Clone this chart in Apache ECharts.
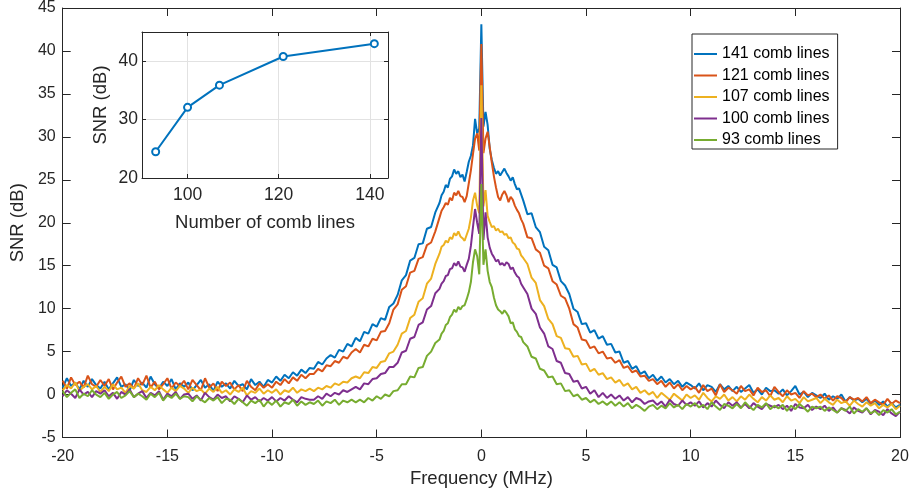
<!DOCTYPE html>
<html>
<head>
<meta charset="utf-8">
<script src="https://cdn.jsdelivr.net/npm/echarts@6/dist/echarts.min.js"></script>
<style>
  html, body { margin: 0; padding: 0; background: #fff; }
  #chart { width: 912px; height: 495px; }
</style>
</head>
<body>
<div id="chart"></div>
<script>
// frequency grid (MHz): 0.2 step outside +-2, 0.1 step in the middle
const freq = [];
for (let i = 0; i < 90; i++) freq.push(+(-20 + 0.2 * i).toFixed(1));
for (let i = 0; i <= 40; i++) freq.push(+(-2 + 0.1 * i).toFixed(1));
for (let i = 0; i < 90; i++) freq.push(+(2.2 + 0.2 * i).toFixed(1));

// SNR (dB), same order as freq
const snr141 = [
  0.8, 1.9, 1.0, 1.4, 0.6, 1.6, 0.9, 1.8, 1.1, 0.7,
  1.5, 0.6, 1.3, 2.0, 0.9, 1.2, 0.5, 1.7, 1.0, 1.4,
  0.8, 2.1, 1.2, 0.7, 1.5, 1.0, 1.8, 0.6, 1.3, 0.9,
  1.4, 0.5, 1.1, 1.7, 0.8, 1.2, 0.4, 1.5, 0.9, 1.3,
  0.7, 1.6, 1.0, 1.2, 0.6, 1.8, 1.1, 1.5, 0.9, 1.7,
  1.4, 2.1, 1.6, 2.3, 1.9, 2.6, 2.2, 2.9, 2.5, 3.1,
  3.0, 3.8, 3.5, 4.2, 4.6, 4.3, 5.2, 5.0, 5.9, 5.6,
  6.6, 6.2, 7.3, 7.1, 8.2, 7.9, 8.9, 8.7, 10.2, 10.6,
  11.6, 13.3, 13.9, 15.6, 15.9, 17.5, 17.6, 19.3, 19.5, 21.2,
  22.3, 23.2, 23.6, 24.4, 24.1, 25.1, 25.4, 26.2, 25.7, 26.0,
  25.3, 25.6, 24.8, 25.9, 27.1, 27.8, 29.0, 32.1, 30.4, 31.0,
  43.1,
  31.2, 32.9, 31.4, 28.6, 27.3, 26.4, 25.7, 26.0, 25.5, 25.9,
  26.3, 25.8, 25.4, 24.9, 25.3, 24.5, 23.9, 24.0, 23.3, 22.6,
  21.0, 21.1, 19.5, 18.9, 17.2, 16.8, 15.1, 14.8, 13.2, 12.7,
  11.7, 10.0, 9.6, 8.2, 8.3, 7.2, 7.5, 6.5, 6.8, 5.8,
  5.9, 4.9, 5.0, 3.7, 3.9, 3.0, 3.3, 2.4, 2.7, 1.9,
  2.3, 1.6, 2.1, 1.4, 1.8, 1.2, 1.6, 0.9, 1.4, 1.1,
  0.7, 1.3, 0.5, 1.1, 0.9, 0.3, 1.2, 0.6, 1.0, 0.4,
  0.9, 0.3, 0.7, 1.1, 0.2, 0.6, 0.0, 0.8, 0.4, 0.5,
  0.1, 0.6, -0.1, 0.4, 1.0, 0.0, 0.3, -0.3, 0.2, -0.1,
  -0.4, 0.1, -0.6, -0.2, -0.5, 0.0, -0.8, -0.3, -0.7, -0.5,
  -0.9, -0.5, -1.1, -0.7, -1.2, -0.8, -1.4, -1.0, -1.5, -1.2
];
const snr121 = [
  1.6, 0.7, 2.0, 1.1, 1.5, 0.8, 2.2, 1.2, 0.9, 1.7,
  1.0, 1.8, 0.6, 1.4, 2.1, 0.9, 1.3, 0.7, 1.9, 1.1,
  2.2, 0.8, 1.5, 0.6, 1.2, 1.9, 0.7, 1.4, 1.0, 1.6,
  0.6, 1.7, 1.1, 0.5, 1.9, 0.8, 1.3, 0.4, 1.5, 1.0,
  1.4, 0.6, 1.1, 0.4, 1.6, 0.9, 0.5, 1.3, 0.8, 1.2,
  0.8, 1.5, 1.1, 1.8, 1.3, 2.0, 1.6, 2.3, 1.9, 2.4,
  2.4, 3.0, 2.7, 3.4, 3.3, 3.9, 3.7, 4.4, 4.2, 4.9,
  5.3, 4.9, 5.8, 5.6, 6.5, 6.3, 7.3, 7.4, 8.3, 9.9,
  10.5, 12.2, 12.6, 14.2, 14.4, 15.8, 16.0, 17.4, 17.7, 19.0,
  20.6, 21.4, 21.8, 22.3, 22.1, 22.9, 22.6, 23.5, 23.2, 23.7,
  23.1, 23.0, 22.4, 23.1, 24.6, 26.1, 28.0, 29.8, 30.4, 28.4,
  40.8,
  28.1, 29.8, 30.6, 28.8, 27.0, 25.4, 24.1, 23.0, 22.6, 23.3,
  23.7, 23.2, 22.4, 23.0, 22.7, 22.0, 21.5, 21.1, 20.4, 19.9,
  18.3, 18.2, 16.9, 16.5, 15.0, 14.7, 13.2, 12.8, 11.5, 11.2,
  10.0, 8.2, 7.8, 6.4, 6.3, 5.4, 5.6, 4.8, 5.0, 4.2,
  4.3, 3.7, 4.0, 3.1, 3.3, 2.6, 2.8, 2.1, 2.2, 1.6,
  1.8, 1.2, 1.6, 0.9, 1.4, 0.7, 1.2, 0.5, 1.0, 0.6,
  0.9, 0.2, 1.1, 0.4, 0.7, -0.1, 1.2, 0.3, 0.8, 0.5,
  0.1, 1.0, 0.4, 0.6, -0.1, 0.8, 0.3, 0.5, -0.2, 0.9,
  0.3, -0.2, 0.5, 0.0, 0.2, -0.4, 0.4, -0.1, 0.1, -0.3,
  0.0, -0.5, -0.1, -0.7, -0.2, -0.4, -0.9, -0.3, -0.6, -0.4,
  -0.8, -0.3, -1.0, -0.6, -0.9, -1.2, -0.5, -1.1, -0.7, -1.0
];
const snr107 = [
  0.5, 1.1, 0.7, 1.4, 0.4, 0.9, 1.2, 0.6, 1.0, 0.3,
  0.9, 0.4, 1.2, 0.6, 0.8, 0.2, 1.0, 0.7, 1.3, 0.5,
  0.3, 0.9, 0.5, 1.1, 0.6, 0.2, 0.8, 0.4, 1.0, 0.7,
  0.2, 0.8, 0.4, 0.6, 0.1, 0.7, 0.3, 0.9, 0.2, 0.5,
  0.0, 0.6, 0.3, 0.8, -0.1, 0.4, 0.2, 0.7, 0.1, 0.5,
  0.2, 0.6, 0.0, 0.5, 0.3, 0.8, 0.2, 0.6, 0.4, 0.7,
  0.4, 0.8, 0.6, 1.0, 0.8, 1.3, 1.1, 1.5, 1.4, 1.9,
  2.1, 1.9, 2.6, 2.5, 3.2, 3.1, 3.8, 3.9, 4.8, 5.0,
  5.8, 7.1, 7.4, 8.9, 9.3, 10.8, 11.2, 12.9, 13.5, 15.2,
  16.4, 17.2, 17.4, 17.9, 17.7, 18.3, 18.1, 18.8, 18.5, 19.0,
  18.4, 18.2, 17.9, 18.6, 19.3, 20.6, 22.6, 23.5, 22.0, 21.1,
  36.0,
  21.9, 23.8, 20.8, 20.1, 19.5, 19.6, 19.1, 19.3, 18.9, 19.0,
  18.6, 18.7, 18.2, 18.3, 17.7, 17.5, 17.0, 16.9, 16.2, 15.9,
  15.2, 13.6, 13.0, 11.0, 10.3, 8.8, 8.2, 6.8, 6.6, 5.4,
  5.3, 4.4, 4.5, 3.5, 3.6, 2.7, 3.0, 2.3, 2.5, 1.8,
  2.0, 1.4, 1.7, 1.0, 1.3, 0.6, 0.9, 0.2, 0.5, 0.0,
  0.3, -0.4, 0.2, -0.2, -0.6, 0.1, -0.3, -0.7, 0.0, -0.4,
  -0.1, -0.6, 0.2, -0.4, -0.8, -0.2, -0.5, 0.0, -0.7, -0.3,
  -0.8, -0.2, -0.6, 0.0, -0.5, -0.9, -0.3, -0.7, -0.1, -0.6,
  -0.4, -0.9, -0.2, -0.7, -0.5, -1.0, -0.3, -0.8, -0.6, -0.4,
  -1.0, -0.5, -0.9, -1.2, -0.6, -1.0, -0.8, -1.3, -0.7, -1.1,
  -1.4, -0.9, -1.3, -1.0, -1.6, -1.2, -1.5, -1.1, -1.7, -1.3
];
const snr100 = [
  -0.2, 0.5, 0.1, -0.4, 0.6, 0.0, 0.3, -0.3, 0.4, 0.1,
  0.5, -0.2, 0.2, -0.5, 0.3, 0.0, 0.6, -0.3, 0.1, 0.4,
  -0.4, 0.2, -0.1, 0.4, -0.6, 0.1, -0.2, 0.3, -0.5, 0.0,
  0.1, -0.5, -0.1, -0.7, 0.2, -0.3, -0.6, 0.0, -0.4, -0.2,
  -0.8, -0.2, -0.5, -0.9, -0.1, -0.6, -0.3, -0.8, -0.4, -0.7,
  -0.3, -0.8, -0.4, -0.7, -0.2, -0.6, -0.9, -0.3, -0.5, -0.6,
  -0.6, -0.2, -0.5, 0.1, -0.2, 0.2, 0.0, 0.5, 0.3, 0.6,
  0.9, 0.6, 1.3, 1.2, 1.8, 1.9, 2.4, 2.5, 3.2, 3.2,
  3.7, 4.9, 5.1, 6.5, 6.7, 8.1, 8.4, 9.9, 10.3, 11.8,
  12.3, 12.9, 13.2, 13.8, 13.9, 14.6, 14.7, 15.3, 15.0, 15.5,
  14.9, 14.8, 14.3, 15.1, 15.8, 17.3, 19.5, 21.6, 20.0, 18.7,
  32.2,
  18.0, 21.2, 18.3, 17.1, 16.4, 16.0, 15.5, 15.7, 15.1, 15.3,
  15.0, 15.4, 15.2, 14.6, 14.8, 14.2, 13.8, 13.6, 12.9, 12.5,
  11.7, 10.0, 9.4, 7.8, 7.1, 5.6, 5.3, 3.9, 3.7, 2.5,
  2.4, 1.5, 1.6, 0.7, 0.9, 0.1, 0.5, -0.3, 0.2, -0.4,
  0.0, -0.5, -0.1, -0.7, -0.3, -0.9, -0.4, -0.6, -1.1, -0.8,
  -0.7, -1.2, -0.8, -1.4, -0.6, -1.1, -1.3, -0.7, -1.2, -0.9,
  -1.3, -0.8, -1.5, -1.0, -1.4, -0.7, -1.2, -1.6, -0.9, -1.3,
  -0.9, -1.5, -1.1, -1.6, -1.0, -1.4, -1.7, -1.1, -1.3, -1.5,
  -1.2, -1.7, -1.3, -1.9, -1.1, -1.5, -1.6, -1.2, -1.8, -1.4,
  -1.7, -1.3, -1.9, -1.5, -2.1, -1.6, -1.8, -2.2, -1.5, -1.9,
  -2.1, -1.6, -2.3, -1.8, -2.0, -2.4, -1.7, -2.2, -2.5, -2.0
];
const snr93 = [
  0.4, -0.3, 0.2, 0.6, -0.4, 0.1, -0.2, 0.5, 0.0, -0.3,
  0.2, -0.5, 0.0, 0.3, -0.4, -0.1, 0.4, -0.3, 0.1, -0.2,
  -0.6, 0.1, -0.3, 0.2, -0.7, -0.1, -0.4, 0.1, -0.5, -0.2,
  -0.3, -0.8, -0.2, -0.6, -0.9, -0.4, -0.7, -0.3, -1.0, -0.5,
  -0.6, -1.1, -0.5, -0.9, -1.3, -0.7, -1.0, -0.6, -1.4, -0.8,
  -1.2, -0.7, -1.4, -0.9, -1.1, -0.6, -1.3, -0.8, -1.2, -0.9,
  -1.1, -0.7, -1.3, -0.8, -1.0, -0.6, -1.2, -0.7, -0.9, -0.6,
  -0.9, -0.6, -0.9, -0.4, -0.7, -0.2, -0.5, 0.0, -0.2, 0.4,
  0.5, 1.2, 1.2, 2.1, 2.0, 3.1, 3.2, 4.5, 5.0, 6.0,
  6.4, 7.1, 7.4, 8.1, 8.3, 9.0, 9.3, 9.9, 9.6, 10.2,
  9.9, 10.3, 10.4, 11.1, 11.9, 13.1, 15.4, 16.9, 16.1, 14.0,
  24.5,
  15.1, 16.9, 14.4, 13.1, 12.5, 11.3, 10.4, 9.9, 9.7, 9.4,
  9.8, 9.5, 9.1, 8.3, 8.4, 7.6, 7.3, 6.8, 6.7, 6.1,
  5.6, 4.4, 4.2, 3.0, 2.8, 2.0, 2.1, 1.2, 1.3, 0.4,
  0.5, -0.2, 0.0, -0.6, -0.4, -0.9, -0.6, -1.1, -0.8, -1.2,
  -0.8, -1.3, -0.9, -1.4, -1.0, -1.6, -1.2, -1.5, -1.9, -1.4,
  -1.2, -1.7, -1.3, -1.6, -1.0, -1.5, -1.2, -1.7, -1.1, -1.4,
  -1.0, -1.5, -1.2, -1.7, -0.9, -1.4, -1.8, -1.1, -1.3, -1.6,
  -1.1, -1.6, -0.9, -1.4, -1.8, -1.2, -1.5, -1.0, -1.7, -1.3,
  -1.6, -1.2, -1.9, -1.3, -1.7, -1.1, -1.5, -2.0, -1.4, -1.6,
  -1.4, -1.9, -1.5, -1.8, -2.1, -1.6, -1.9, -1.4, -2.2, -1.7,
  -2.0, -1.6, -2.2, -1.9, -2.4, -1.8, -2.1, -1.7, -2.3, -2.0
];

const seriesNames = ['141 comb lines', '121 comb lines', '107 comb lines', '100 comb lines', '93 comb lines'];
const seriesColors = ['#0072BD', '#D95319', '#EDB120', '#7E2F8E', '#77AC30'];
const spectra = [snr141, snr121, snr107, snr100, snr93];

// inset: peak SNR vs number of comb lines
const combLines = [93, 100, 107, 121, 141];
const peakSnr = [24.5, 32.1, 35.9, 40.8, 43.0];
const insetXTicks = [100, 120, 140];
const insetYTicks = [20, 30, 40];

const ink = '#262626';
const font = 'Liberation Sans, Arial, Helvetica, sans-serif';

const myChart = echarts.init(document.getElementById('chart'));

const boxLine = { onZero: false, lineStyle: { color: ink, width: 1 } };

const option = {
  animation: false,
  textStyle: { fontFamily: font },
  grid: [
    { left: 60, right: 12, top: 8, bottom: 57.5 },
    { left: 142, top: 32, width: 246, height: 146, show: true, backgroundColor: '#fff', borderWidth: 0, z: 5 }
  ],
  legend: {
    left: 692,
    top: 34,
    orient: 'vertical',
    icon: 'rect',
    itemWidth: 23,
    itemHeight: 2,
    itemGap: 5.5,
    padding: [12, 8, 1, 2],
    borderColor: ink,
    borderWidth: 1,
    borderRadius: 0,
    backgroundColor: '#fff',
    textStyle: { fontSize: 16, color: '#000', fontFamily: font },
    data: seriesNames
  },
  xAxis: [
    {
      gridIndex: 0, type: 'value', position: 'bottom', min: -20, max: 20, interval: 5,
      name: 'Frequency (MHz)', nameLocation: 'middle', nameGap: 32,
      nameTextStyle: { fontSize: 18.5, color: ink },
      axisLine: boxLine,
      axisTick: { inside: true, length: 8, lineStyle: { color: ink } },
      axisLabel: { fontSize: 16, color: ink, margin: 11 },
      splitLine: { show: false }
    },
    {
      gridIndex: 0, type: 'value', position: 'top', min: -20, max: 20, interval: 5,
      axisLine: boxLine,
      axisTick: { inside: true, length: 8, lineStyle: { color: ink } },
      axisLabel: { show: false },
      splitLine: { show: false }
    },
    {
      gridIndex: 1, type: 'value', position: 'bottom', min: 90, max: 144,
      name: 'Number of comb lines', nameLocation: 'middle', nameGap: 35,
      nameTextStyle: { fontSize: 18.5, color: ink },
      axisLine: boxLine,
      axisTick: { inside: true, length: 4, customValues: insetXTicks, lineStyle: { color: ink } },
      axisLabel: { customValues: insetXTicks, fontSize: 17.5, color: ink, margin: 8 },
      splitLine: { show: true, lineStyle: { color: '#e2e2e2', width: 1 } },
      z: 6
    },
    {
      gridIndex: 1, type: 'value', position: 'top', min: 90, max: 144,
      axisLine: boxLine,
      axisTick: { inside: true, length: 4, customValues: insetXTicks, lineStyle: { color: ink } },
      axisLabel: { show: false },
      splitLine: { show: false },
      z: 6
    }
  ],
  yAxis: [
    {
      gridIndex: 0, type: 'value', position: 'left', min: -5, max: 45, interval: 5,
      name: 'SNR (dB)', nameLocation: 'middle', nameGap: 31,
      nameTextStyle: { fontSize: 18.5, color: ink },
      axisLine: boxLine,
      axisTick: { inside: true, length: 8, lineStyle: { color: ink } },
      axisLabel: { fontSize: 16, color: ink, margin: 7 },
      splitLine: { show: false }
    },
    {
      gridIndex: 0, type: 'value', position: 'right', min: -5, max: 45, interval: 5,
      axisLine: boxLine,
      axisTick: { inside: true, length: 8, lineStyle: { color: ink } },
      axisLabel: { show: false },
      splitLine: { show: false }
    },
    {
      gridIndex: 1, type: 'value', position: 'left', min: 20, max: 45,
      name: 'SNR (dB)', nameLocation: 'middle', nameGap: 32,
      nameTextStyle: { fontSize: 18.5, color: ink },
      axisLine: boxLine,
      axisTick: { inside: true, length: 4, customValues: insetYTicks, lineStyle: { color: ink } },
      axisLabel: { customValues: insetYTicks, fontSize: 17.5, color: ink, margin: 4 },
      splitLine: { show: true, lineStyle: { color: '#e2e2e2', width: 1 } },
      z: 6
    },
    {
      gridIndex: 1, type: 'value', position: 'right', min: 20, max: 45,
      axisLine: boxLine,
      axisTick: { inside: true, length: 4, customValues: insetYTicks, lineStyle: { color: ink } },
      axisLabel: { show: false },
      splitLine: { show: false },
      z: 6
    }
  ],
  series: [
    ...spectra.map((vals, k) => ({
      name: seriesNames[k],
      type: 'line',
      xAxisIndex: 0,
      yAxisIndex: 0,
      symbol: 'none',
      color: seriesColors[k],
      lineStyle: { width: 2, color: seriesColors[k] },
      data: freq.map((f, i) => [f, vals[i]])
    })),
    {
      name: 'inset',
      type: 'line',
      xAxisIndex: 2,
      yAxisIndex: 2,
      symbol: 'emptyCircle',
      symbolSize: 7,
      z: 7,
      color: '#0072BD',
      lineStyle: { width: 2, color: '#0072BD' },
      itemStyle: { color: '#0072BD', borderWidth: 1.8 },
      data: combLines.map((n, i) => [n, peakSnr[i]])
    }
  ]
};

myChart.setOption(option);
window.addEventListener('resize', function () {
  myChart.resize();
});
</script>
</body>
</html>
